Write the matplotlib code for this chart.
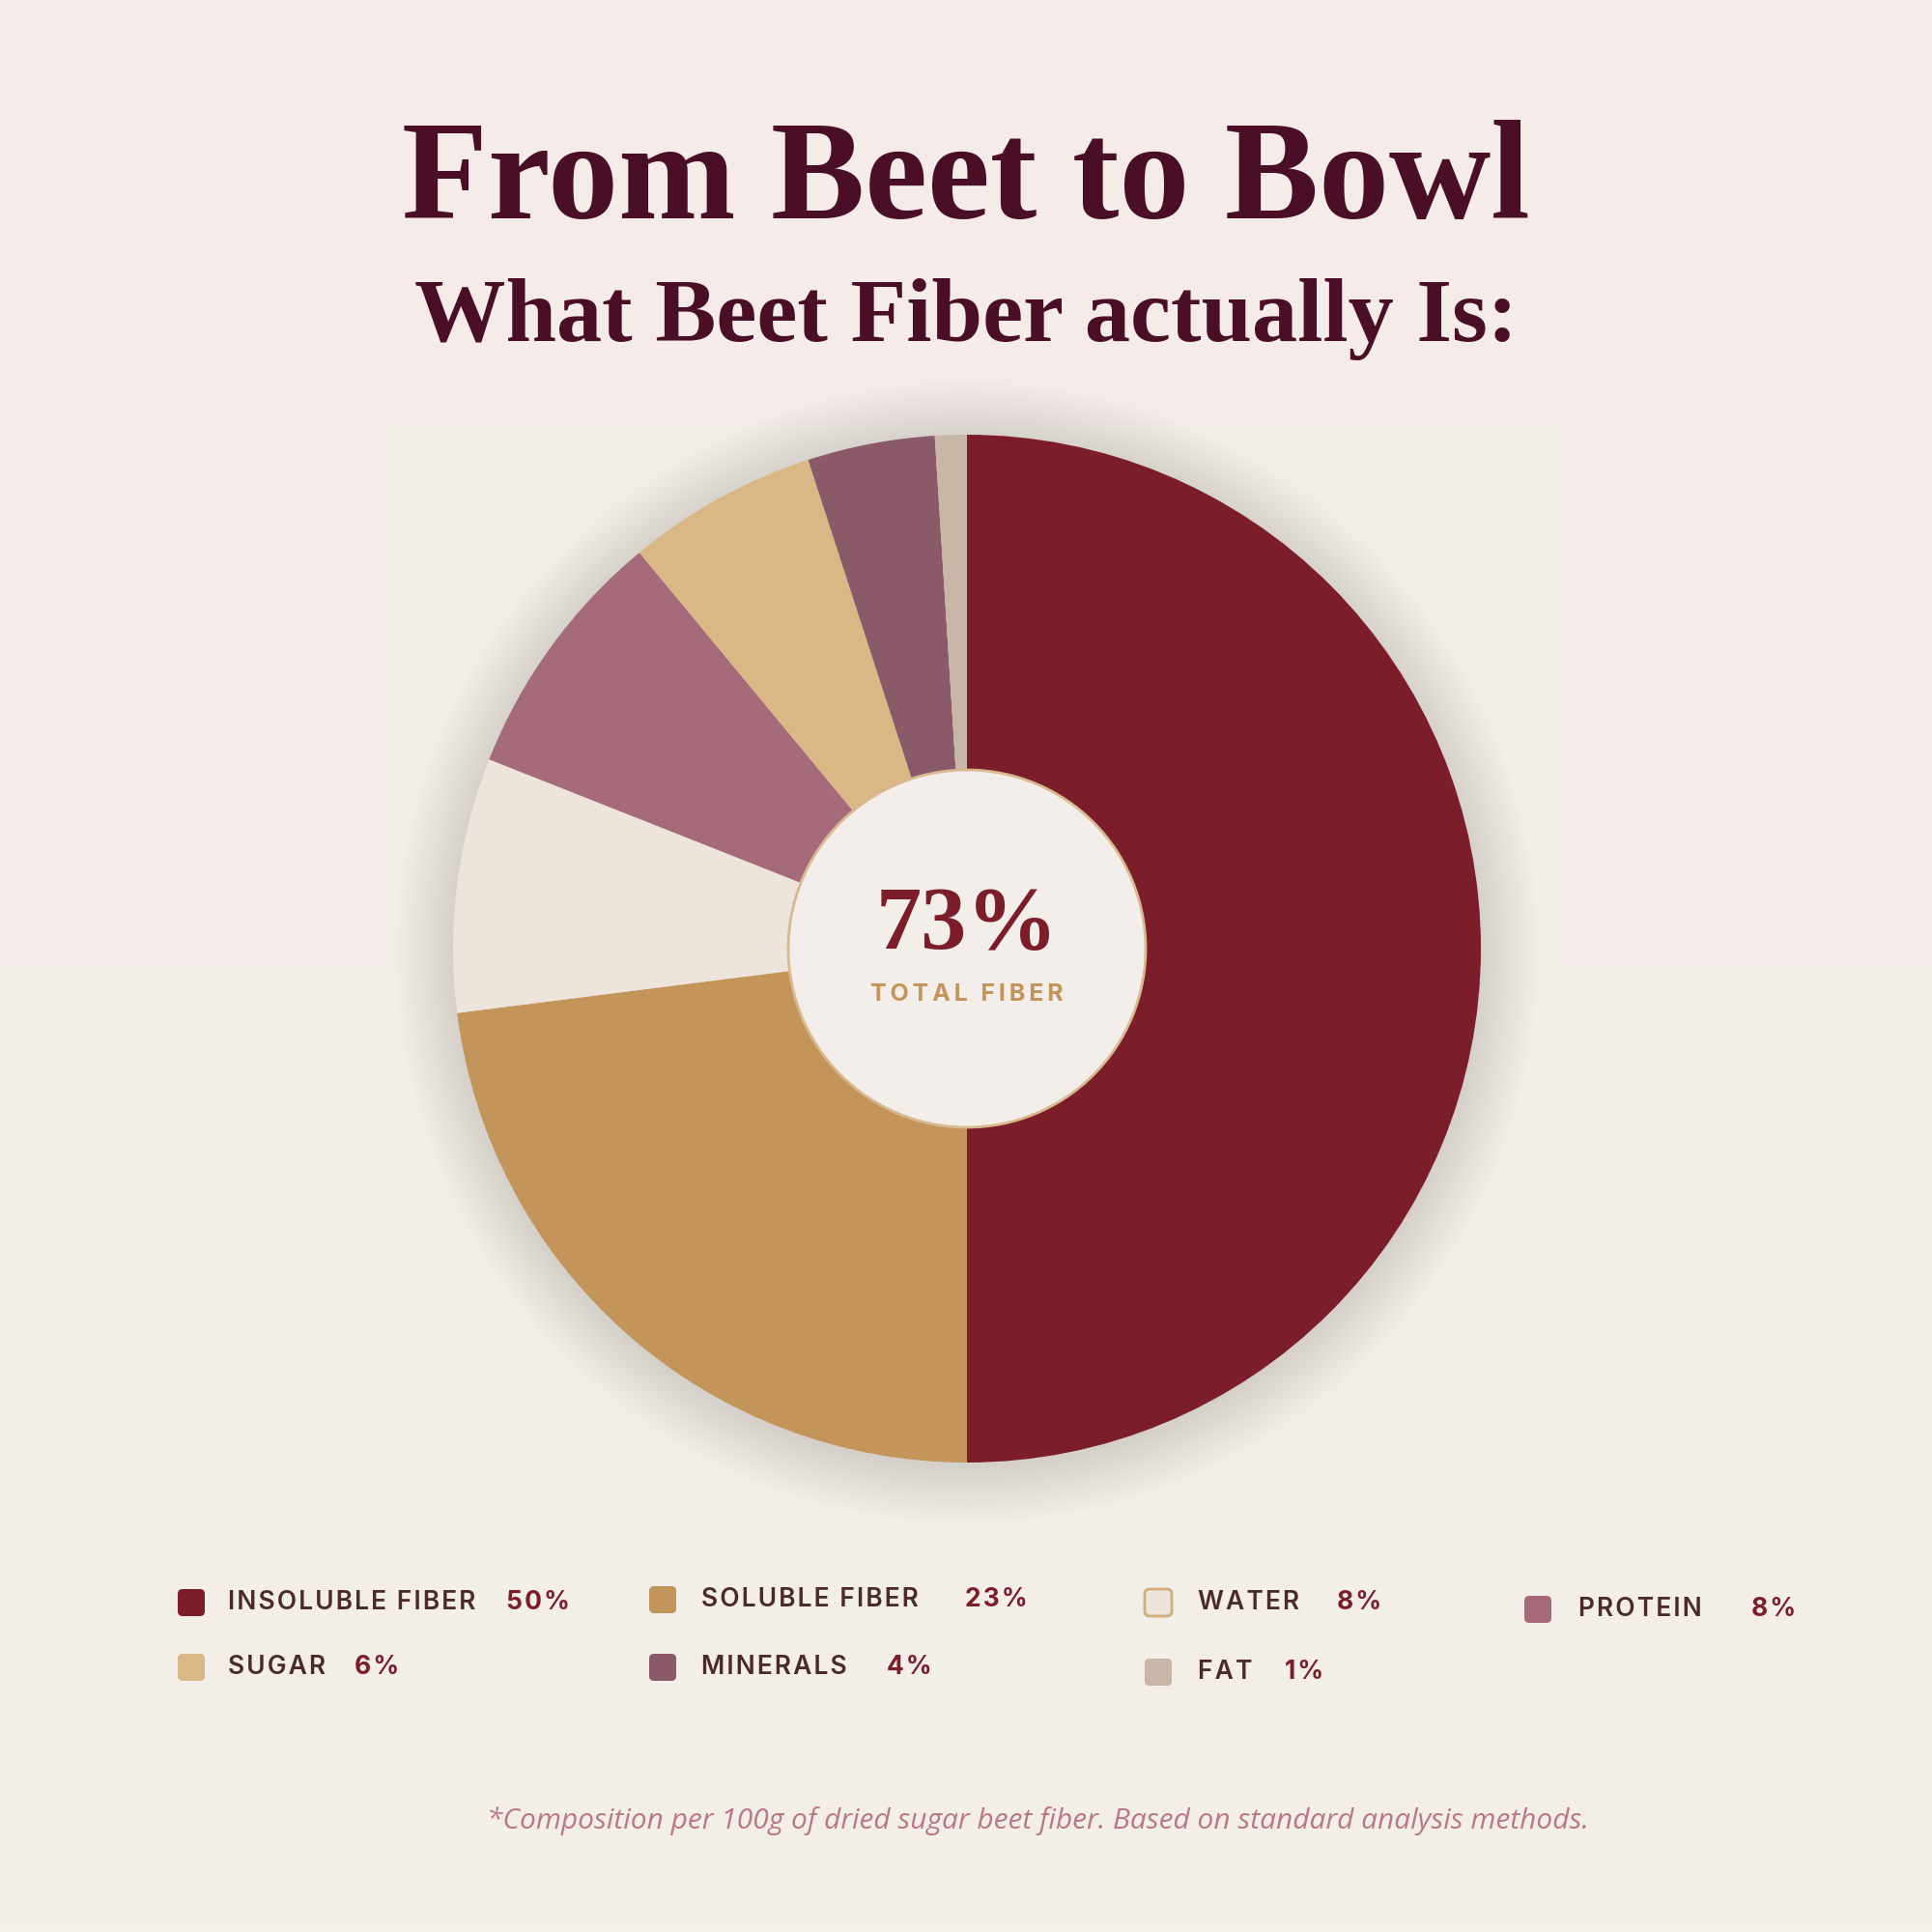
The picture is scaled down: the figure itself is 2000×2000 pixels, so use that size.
import numpy as np
import matplotlib
matplotlib.use("Agg")
from matplotlib import pyplot as plt
from matplotlib import patches
from matplotlib.colors import LinearSegmentedColormap

# data
labels = ["INSOLUBLE FIBER", "SOLUBLE FIBER", "WATER", "PROTEIN", "SUGAR", "MINERALS", "FAT"]
values = [50, 23, 8, 8, 6, 4, 1]
colors = ["#7B1E2A", "#C4955B", "#EDE5DB", "#A66B7A", "#D9B885", "#8B5A69", "#C8B6A6"]
center_value = "73%"
center_label = "TOTAL FIBER"

title = "From Beet to Bowl"
subtitle = "What Beet Fiber actually Is:"
footnote = "*Composition per 100g of dried sugar beet fiber. Based on standard analysis methods."

W = H = 2000


def Y(y):
    # image pixel (top-down) -> axes y (bottom-up)
    return H - y


def spaced(s, sep="\u200a"):
    return sep.join(list(s))


fig = plt.figure(figsize=(20, 20), dpi=100)
ax = fig.add_axes([0, 0, 1, 1])
ax.set_xlim(0, W)
ax.set_ylim(0, H)
ax.set_aspect("equal")
ax.axis("off")

# background gradient (pinkish top -> warm cream bottom)
bg = LinearSegmentedColormap.from_list("bg", ["#F4EFE9", "#F5EEEA", "#F6ECEA"])
grad = np.linspace(0, 1, 256).reshape(-1, 1)
ax.imshow(grad, cmap=bg, extent=[0, W, 0, H], origin="lower", aspect="auto", zorder=0)

# panel behind the chart
ax.add_patch(patches.Rectangle((395, Y(1560)), 1222, 1120, facecolor="#F3EEE8",
                               edgecolor="none", zorder=1))

# pie geometry
cx, cy = 1001, Y(982)
R = 532
hole = 185

# soft shadow around the pie
for r in np.linspace(R + 60, R, 30):
    ax.add_patch(patches.Circle((cx, cy - 4), r, facecolor="#C89AA0", edgecolor="none",
                                alpha=0.009, zorder=2))

ax.pie(values, colors=colors, startangle=90, counterclock=False, center=(cx, cy), radius=R,
       wedgeprops=dict(linewidth=0, edgecolor="none", zorder=3), frame=True)
ax.set_xlim(0, W)
ax.set_ylim(0, H)
ax.axis("off")

ax.add_patch(patches.Circle((cx, cy), hole, facecolor="#F3EEE9", edgecolor="#D9B98F",
                            linewidth=2, zorder=5))
ax.text(cx, Y(982), center_value, ha="center", va="baseline", fontsize=68,
        family=["Liberation Serif", "DejaVu Serif"], weight="bold", color="#7B1E2A", zorder=6)
ax.text(cx, Y(1036), spaced(center_label, "\u2009"), ha="center", va="baseline", fontsize=18,
        family=["Inter", "DejaVu Sans"], weight="bold", color="#C4955B", zorder=6)

# titles
ax.text(W / 2, Y(226), title, ha="center", va="baseline", fontsize=105,
        family=["Liberation Serif"], weight="bold", color="#4A0F26", zorder=6)
ax.text(W / 2, Y(353), subtitle, ha="center", va="baseline", fontsize=68,
        family=["Liberation Serif"], weight="bold", color="#4A0F26", zorder=6)

# legend
swatch_x = [198, 686, 1199, 1592, 198, 686, 1199]
text_x = [236, 726, 1240, 1634, 236, 726, 1240]
pct_x = [524, 999, 1384, 1813, 367, 918, 1330]
row_y = [1659, 1656, 1659, 1666, 1726, 1726, 1731]
sw = 28
for i, lab in enumerate(labels):
    edge = "#D4AE7A" if lab == "WATER" else "none"
    ax.add_patch(patches.FancyBboxPatch((swatch_x[i] - sw / 2, Y(row_y[i]) - sw / 2), sw, sw,
                                        boxstyle="round,pad=0,rounding_size=5",
                                        facecolor=colors[i], edgecolor=edge, linewidth=2, zorder=6))
    ax.text(text_x[i], Y(row_y[i]), spaced(lab), ha="left", va="center", fontsize=19,
            family=["Inter", "DejaVu Sans"], weight="semibold", color="#4A2A2E", zorder=6)
    ax.text(pct_x[i], Y(row_y[i]), spaced("%d%%" % values[i]), ha="left", va="center",
            fontsize=19, family=["Inter", "DejaVu Sans"], weight="bold", color="#7B1E2A", zorder=6)

# footnote
ax.text(1074, Y(1885), footnote, ha="center", va="center", fontsize=21.5, style="italic",
        family=["Open Sans", "DejaVu Sans"], color="#B9788A", zorder=6)

fig.savefig("out.png", dpi=100)
